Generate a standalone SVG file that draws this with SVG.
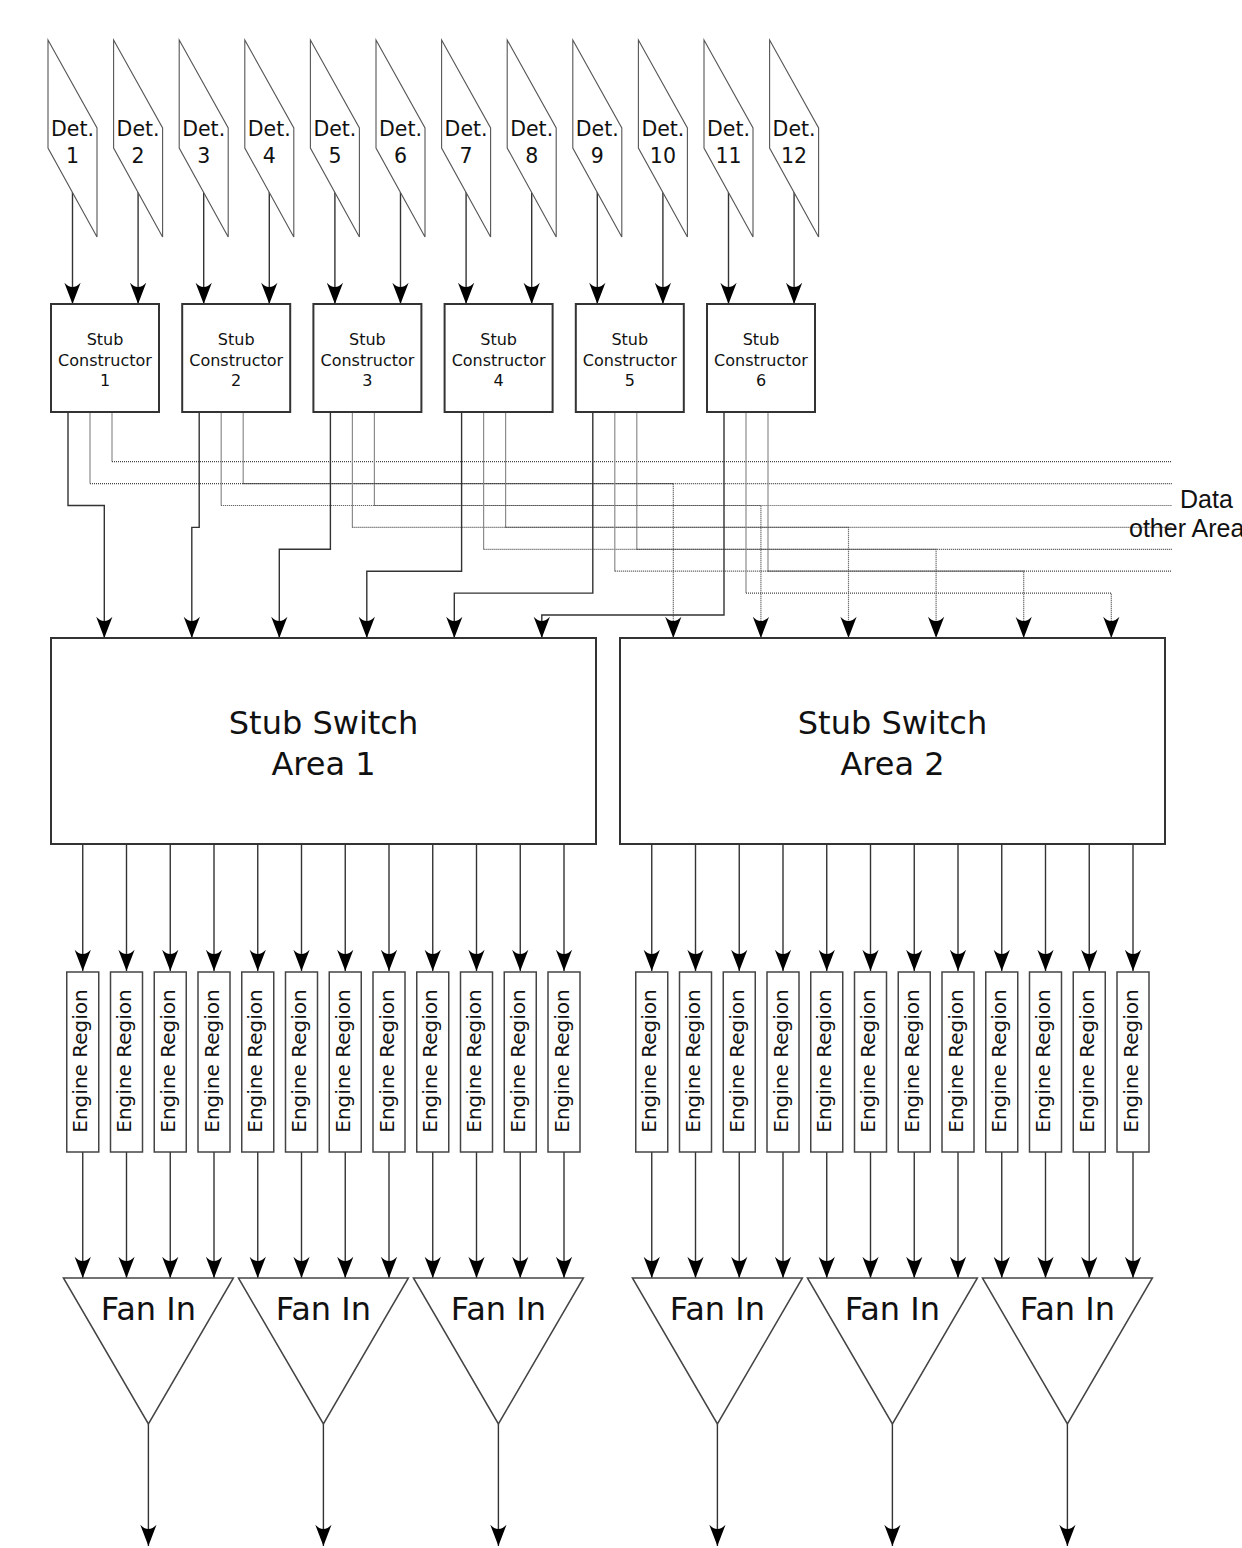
<svg xmlns="http://www.w3.org/2000/svg" width="1242" height="1548" viewBox="0 0 1242 1548">
<defs>
<marker id="ah" markerUnits="userSpaceOnUse" markerWidth="30" markerHeight="30" viewBox="-20 -10 24 20" refX="0" refY="0" orient="auto" overflow="visible">
<path d="M0,0 L-17,-6.5 C-12.5,-2.5 -12.5,2.5 -17,6.5 Z" fill="#000" stroke="none"/>
</marker>
<style>
.det{fill:#fff;stroke:#555;stroke-width:1.1}
.box{fill:#fff;stroke:#333;stroke-width:2}
.eng{fill:#fff;stroke:#444;stroke-width:1.5}
.fan{fill:#fff;stroke:#444;stroke-width:1.5}
.w{fill:none;stroke:#333;stroke-width:1.4;marker-end:url(#ah)}
.g{fill:none;stroke:#8c8c8c;stroke-width:1.2}
.d{fill:none;stroke:#444;stroke-width:1.2;stroke-dasharray:1 1}
.da{fill:none;stroke:#444;stroke-width:1.2;stroke-dasharray:1 1;marker-end:url(#ah)}
text{font-family:"DejaVu Sans",sans-serif;fill:#111;text-anchor:middle}
.t20{font-size:20.5px}
.t16{font-size:16px}
.t32{font-size:32px}
.te{font-size:20px}
.data{font-family:"Liberation Sans",Arial,sans-serif;font-size:25px;text-anchor:start}
</style>
</defs>

<g id="connectors">
<!-- detector to stub constructor -->
<path class="w" d="M72.5,192 V304"/>
<path class="w" d="M138.1,192 V304"/>
<path class="w" d="M203.7,192 V304"/>
<path class="w" d="M269.3,192 V304"/>
<path class="w" d="M334.9,192 V304"/>
<path class="w" d="M400.5,192 V304"/>
<path class="w" d="M466.1,192 V304"/>
<path class="w" d="M531.7,192 V304"/>
<path class="w" d="M597.3,192 V304"/>
<path class="w" d="M662.9,192 V304"/>
<path class="w" d="M728.5,192 V304"/>
<path class="w" d="M794.1,192 V304"/>
<!-- other area (c) -->
<path class="g" d="M112,413 V461.7"/><path class="d" d="M112,461.7 H1172"/>
<path class="g" d="M243.2,413 V483.6"/><path class="d" d="M243.2,483.6 H1172"/>
<path class="g" d="M374.4,413 V505.5"/><path class="d" d="M374.4,505.5 H1172"/>
<path class="g" d="M505.6,413 V527.4"/><path class="d" d="M505.6,527.4 H1172"/>
<path class="g" d="M636.8,413 V549.3"/><path class="d" d="M636.8,549.3 H1172"/>
<path class="g" d="M768,413 V571.2"/><path class="d" d="M768,571.2 H1172"/>
<!-- area 2 (b) -->
<path class="g" d="M90,413 V483.6"/><path class="da" d="M90,483.6 H673.3 V638"/>
<path class="g" d="M221.2,413 V505.5"/><path class="da" d="M221.2,505.5 H760.9 V638"/>
<path class="g" d="M352.4,413 V527.4"/><path class="da" d="M352.4,527.4 H848.5 V638"/>
<path class="g" d="M483.6,413 V549.3"/><path class="da" d="M483.6,549.3 H936.1 V638"/>
<path class="g" d="M614.8,413 V571.2"/><path class="da" d="M614.8,571.2 H1023.7 V638"/>
<path class="g" d="M746,413 V593.1"/><path class="da" d="M746,593.1 H1111.3 V638"/>
<!-- area 1 (a) -->
<path class="w" d="M68,413 V505.5 H104.3 V638"/>
<path class="w" d="M199.2,413 V527.4 H191.8 V638"/>
<path class="w" d="M330.4,413 V549.3 H279.3 V638"/>
<path class="w" d="M461.6,413 V571.2 H366.8 V638"/>
<path class="w" d="M592.8,413 V593.1 H454.3 V638"/>
<path class="w" d="M724,413 V615 H541.8 V638"/>
<!-- switch to engine -->
<path class="w" d="M82.75,845 V971"/>
<path class="w" d="M126.5,845 V971"/>
<path class="w" d="M170.25,845 V971"/>
<path class="w" d="M214,845 V971"/>
<path class="w" d="M257.75,845 V971"/>
<path class="w" d="M301.5,845 V971"/>
<path class="w" d="M345.25,845 V971"/>
<path class="w" d="M389,845 V971"/>
<path class="w" d="M432.75,845 V971"/>
<path class="w" d="M476.5,845 V971"/>
<path class="w" d="M520.25,845 V971"/>
<path class="w" d="M564,845 V971"/>
<path class="w" d="M651.75,845 V971"/>
<path class="w" d="M695.5,845 V971"/>
<path class="w" d="M739.25,845 V971"/>
<path class="w" d="M783,845 V971"/>
<path class="w" d="M826.75,845 V971"/>
<path class="w" d="M870.5,845 V971"/>
<path class="w" d="M914.25,845 V971"/>
<path class="w" d="M958,845 V971"/>
<path class="w" d="M1001.75,845 V971"/>
<path class="w" d="M1045.5,845 V971"/>
<path class="w" d="M1089.25,845 V971"/>
<path class="w" d="M1133,845 V971"/>
<!-- engine to fan in -->
<path class="w" d="M82.75,1152 V1278"/>
<path class="w" d="M126.5,1152 V1278"/>
<path class="w" d="M170.25,1152 V1278"/>
<path class="w" d="M214,1152 V1278"/>
<path class="w" d="M257.75,1152 V1278"/>
<path class="w" d="M301.5,1152 V1278"/>
<path class="w" d="M345.25,1152 V1278"/>
<path class="w" d="M389,1152 V1278"/>
<path class="w" d="M432.75,1152 V1278"/>
<path class="w" d="M476.5,1152 V1278"/>
<path class="w" d="M520.25,1152 V1278"/>
<path class="w" d="M564,1152 V1278"/>
<path class="w" d="M651.75,1152 V1278"/>
<path class="w" d="M695.5,1152 V1278"/>
<path class="w" d="M739.25,1152 V1278"/>
<path class="w" d="M783,1152 V1278"/>
<path class="w" d="M826.75,1152 V1278"/>
<path class="w" d="M870.5,1152 V1278"/>
<path class="w" d="M914.25,1152 V1278"/>
<path class="w" d="M958,1152 V1278"/>
<path class="w" d="M1001.75,1152 V1278"/>
<path class="w" d="M1045.5,1152 V1278"/>
<path class="w" d="M1089.25,1152 V1278"/>
<path class="w" d="M1133,1152 V1278"/>
<!-- fan in outputs -->
<path class="w" d="M148.4,1424 V1546"/>
<path class="w" d="M323.4,1424 V1546"/>
<path class="w" d="M498.4,1424 V1546"/>
<path class="w" d="M717.4,1424 V1546"/>
<path class="w" d="M892.4,1424 V1546"/>
<path class="w" d="M1067.4,1424 V1546"/>
</g>

<g id="det1"><polygon class="det" points="48,40 97,128 97,237 48,148"/><text class="t20" x="72.5" y="135.5">Det.</text><text class="t20" x="72.5" y="162.5">1</text></g>
<g id="det2"><polygon class="det" points="113.6,40 162.6,128 162.6,237 113.6,148"/><text class="t20" x="138.1" y="135.5">Det.</text><text class="t20" x="138.1" y="162.5">2</text></g>
<g id="det3"><polygon class="det" points="179.2,40 228.2,128 228.2,237 179.2,148"/><text class="t20" x="203.7" y="135.5">Det.</text><text class="t20" x="203.7" y="162.5">3</text></g>
<g id="det4"><polygon class="det" points="244.8,40 293.8,128 293.8,237 244.8,148"/><text class="t20" x="269.3" y="135.5">Det.</text><text class="t20" x="269.3" y="162.5">4</text></g>
<g id="det5"><polygon class="det" points="310.4,40 359.4,128 359.4,237 310.4,148"/><text class="t20" x="334.9" y="135.5">Det.</text><text class="t20" x="334.9" y="162.5">5</text></g>
<g id="det6"><polygon class="det" points="376,40 425,128 425,237 376,148"/><text class="t20" x="400.5" y="135.5">Det.</text><text class="t20" x="400.5" y="162.5">6</text></g>
<g id="det7"><polygon class="det" points="441.6,40 490.6,128 490.6,237 441.6,148"/><text class="t20" x="466.1" y="135.5">Det.</text><text class="t20" x="466.1" y="162.5">7</text></g>
<g id="det8"><polygon class="det" points="507.2,40 556.2,128 556.2,237 507.2,148"/><text class="t20" x="531.7" y="135.5">Det.</text><text class="t20" x="531.7" y="162.5">8</text></g>
<g id="det9"><polygon class="det" points="572.8,40 621.8,128 621.8,237 572.8,148"/><text class="t20" x="597.3" y="135.5">Det.</text><text class="t20" x="597.3" y="162.5">9</text></g>
<g id="det10"><polygon class="det" points="638.4,40 687.4,128 687.4,237 638.4,148"/><text class="t20" x="662.9" y="135.5">Det.</text><text class="t20" x="662.9" y="162.5">10</text></g>
<g id="det11"><polygon class="det" points="704,40 753,128 753,237 704,148"/><text class="t20" x="728.5" y="135.5">Det.</text><text class="t20" x="728.5" y="162.5">11</text></g>
<g id="det12"><polygon class="det" points="769.6,40 818.6,128 818.6,237 769.6,148"/><text class="t20" x="794.1" y="135.5">Det.</text><text class="t20" x="794.1" y="162.5">12</text></g>

<g id="sc1"><rect class="box" x="51" y="304" width="108" height="108"/><text class="t16" x="105" y="345">Stub</text><text class="t16" x="105" y="365.5">Constructor</text><text class="t16" x="105" y="386">1</text></g>
<g id="sc2"><rect class="box" x="182.2" y="304" width="108" height="108"/><text class="t16" x="236.2" y="345">Stub</text><text class="t16" x="236.2" y="365.5">Constructor</text><text class="t16" x="236.2" y="386">2</text></g>
<g id="sc3"><rect class="box" x="313.4" y="304" width="108" height="108"/><text class="t16" x="367.4" y="345">Stub</text><text class="t16" x="367.4" y="365.5">Constructor</text><text class="t16" x="367.4" y="386">3</text></g>
<g id="sc4"><rect class="box" x="444.6" y="304" width="108" height="108"/><text class="t16" x="498.6" y="345">Stub</text><text class="t16" x="498.6" y="365.5">Constructor</text><text class="t16" x="498.6" y="386">4</text></g>
<g id="sc5"><rect class="box" x="575.8" y="304" width="108" height="108"/><text class="t16" x="629.8" y="345">Stub</text><text class="t16" x="629.8" y="365.5">Constructor</text><text class="t16" x="629.8" y="386">5</text></g>
<g id="sc6"><rect class="box" x="707" y="304" width="108" height="108"/><text class="t16" x="761" y="345">Stub</text><text class="t16" x="761" y="365.5">Constructor</text><text class="t16" x="761" y="386">6</text></g>

<g id="data-label"><text class="data" x="1180" y="508">Data</text><text class="data" x="1129" y="537">other Area</text></g>

<g id="switch1"><rect class="box" x="51" y="638" width="545" height="206"/><text class="t32" x="323.5" y="733.5">Stub Switch</text><text class="t32" x="323.5" y="774.5">Area 1</text></g>
<g id="switch2"><rect class="box" x="620" y="638" width="545" height="206"/><text class="t32" x="892.5" y="733.5">Stub Switch</text><text class="t32" x="892.5" y="774.5">Area 2</text></g>

<g id="eng1-1"><rect class="eng" x="66.75" y="972" width="32" height="180"/><text class="te" transform="translate(87.25,1061) rotate(-90)">Engine Region</text></g>
<g id="eng1-2"><rect class="eng" x="110.5" y="972" width="32" height="180"/><text class="te" transform="translate(131,1061) rotate(-90)">Engine Region</text></g>
<g id="eng1-3"><rect class="eng" x="154.25" y="972" width="32" height="180"/><text class="te" transform="translate(174.75,1061) rotate(-90)">Engine Region</text></g>
<g id="eng1-4"><rect class="eng" x="198" y="972" width="32" height="180"/><text class="te" transform="translate(218.5,1061) rotate(-90)">Engine Region</text></g>
<g id="eng1-5"><rect class="eng" x="241.75" y="972" width="32" height="180"/><text class="te" transform="translate(262.25,1061) rotate(-90)">Engine Region</text></g>
<g id="eng1-6"><rect class="eng" x="285.5" y="972" width="32" height="180"/><text class="te" transform="translate(306,1061) rotate(-90)">Engine Region</text></g>
<g id="eng1-7"><rect class="eng" x="329.25" y="972" width="32" height="180"/><text class="te" transform="translate(349.75,1061) rotate(-90)">Engine Region</text></g>
<g id="eng1-8"><rect class="eng" x="373" y="972" width="32" height="180"/><text class="te" transform="translate(393.5,1061) rotate(-90)">Engine Region</text></g>
<g id="eng1-9"><rect class="eng" x="416.75" y="972" width="32" height="180"/><text class="te" transform="translate(437.25,1061) rotate(-90)">Engine Region</text></g>
<g id="eng1-10"><rect class="eng" x="460.5" y="972" width="32" height="180"/><text class="te" transform="translate(481,1061) rotate(-90)">Engine Region</text></g>
<g id="eng1-11"><rect class="eng" x="504.25" y="972" width="32" height="180"/><text class="te" transform="translate(524.75,1061) rotate(-90)">Engine Region</text></g>
<g id="eng1-12"><rect class="eng" x="548" y="972" width="32" height="180"/><text class="te" transform="translate(568.5,1061) rotate(-90)">Engine Region</text></g>
<g id="eng2-1"><rect class="eng" x="635.75" y="972" width="32" height="180"/><text class="te" transform="translate(656.25,1061) rotate(-90)">Engine Region</text></g>
<g id="eng2-2"><rect class="eng" x="679.5" y="972" width="32" height="180"/><text class="te" transform="translate(700,1061) rotate(-90)">Engine Region</text></g>
<g id="eng2-3"><rect class="eng" x="723.25" y="972" width="32" height="180"/><text class="te" transform="translate(743.75,1061) rotate(-90)">Engine Region</text></g>
<g id="eng2-4"><rect class="eng" x="767" y="972" width="32" height="180"/><text class="te" transform="translate(787.5,1061) rotate(-90)">Engine Region</text></g>
<g id="eng2-5"><rect class="eng" x="810.75" y="972" width="32" height="180"/><text class="te" transform="translate(831.25,1061) rotate(-90)">Engine Region</text></g>
<g id="eng2-6"><rect class="eng" x="854.5" y="972" width="32" height="180"/><text class="te" transform="translate(875,1061) rotate(-90)">Engine Region</text></g>
<g id="eng2-7"><rect class="eng" x="898.25" y="972" width="32" height="180"/><text class="te" transform="translate(918.75,1061) rotate(-90)">Engine Region</text></g>
<g id="eng2-8"><rect class="eng" x="942" y="972" width="32" height="180"/><text class="te" transform="translate(962.5,1061) rotate(-90)">Engine Region</text></g>
<g id="eng2-9"><rect class="eng" x="985.75" y="972" width="32" height="180"/><text class="te" transform="translate(1006.25,1061) rotate(-90)">Engine Region</text></g>
<g id="eng2-10"><rect class="eng" x="1029.5" y="972" width="32" height="180"/><text class="te" transform="translate(1050,1061) rotate(-90)">Engine Region</text></g>
<g id="eng2-11"><rect class="eng" x="1073.25" y="972" width="32" height="180"/><text class="te" transform="translate(1093.75,1061) rotate(-90)">Engine Region</text></g>
<g id="eng2-12"><rect class="eng" x="1117" y="972" width="32" height="180"/><text class="te" transform="translate(1137.5,1061) rotate(-90)">Engine Region</text></g>

<g id="fan1"><polygon class="fan" points="63.4,1278 233.4,1278 148.4,1424"/><text class="t32" x="148.4" y="1320">Fan In</text></g>
<g id="fan2"><polygon class="fan" points="238.4,1278 408.4,1278 323.4,1424"/><text class="t32" x="323.4" y="1320">Fan In</text></g>
<g id="fan3"><polygon class="fan" points="413.4,1278 583.4,1278 498.4,1424"/><text class="t32" x="498.4" y="1320">Fan In</text></g>
<g id="fan4"><polygon class="fan" points="632.4,1278 802.4,1278 717.4,1424"/><text class="t32" x="717.4" y="1320">Fan In</text></g>
<g id="fan5"><polygon class="fan" points="807.4,1278 977.4,1278 892.4,1424"/><text class="t32" x="892.4" y="1320">Fan In</text></g>
<g id="fan6"><polygon class="fan" points="982.4,1278 1152.4,1278 1067.4,1424"/><text class="t32" x="1067.4" y="1320">Fan In</text></g>
</svg>
